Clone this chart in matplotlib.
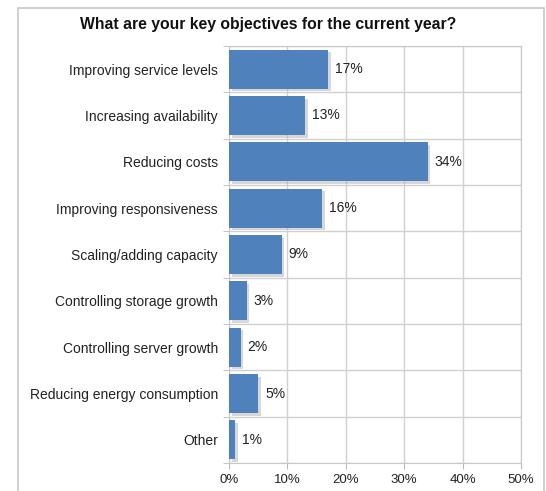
import matplotlib
matplotlib.use("Agg")
import matplotlib.pyplot as plt
import matplotlib.patheffects as pe
from matplotlib.patches import Rectangle

plt.rcParams['font.family'] = ['Liberation Sans', 'DejaVu Sans']

objectives = ["Improving service levels", "Increasing availability", "Reducing costs",
              "Improving responsiveness", "Scaling/adding capacity",
              "Controlling storage growth", "Controlling server growth",
              "Reducing energy consumption", "Other"]
shares = [17, 13, 34, 16, 9, 3, 2, 5, 1]
x_ticks = [0, 10, 20, 30, 40, 50]

W, H = 546, 491
fig = plt.figure(figsize=(W / 100, H / 100), dpi=100)

# outer chart frame
fig.patches.append(Rectangle((18 / W, -0.05), (544 - 18) / W, 1.05 - 8 / H,
                             transform=fig.transFigure, fill=False,
                             edgecolor="#c8c8c8", linewidth=1.2))

ax = fig.add_axes([229 / W, 1 - 463 / H, (521 - 229) / W, (463 - 46) / H])

pos = list(range(len(objectives)))
bars = ax.barh(pos, shares, height=0.84, color="#4f81bd", zorder=3)
for b in bars:
    b.set_path_effects([pe.SimplePatchShadow(offset=(2, -2), shadow_rgbFace="#b0b0b0", alpha=0.5),
                        pe.Normal()])

for p, v in zip(pos, shares):
    ax.text(v + 1.2, p, f"{v}%", va="center", ha="left", fontsize=10, color="#222222")

ax.set_xlim(0, 50)
ax.set_ylim(len(objectives) - 0.5, -0.5)
ax.set_xticks(x_ticks)
ax.set_xticklabels([f"{t}%" for t in x_ticks], fontsize=9.5, color="#222222")
ax.set_yticks(pos)
ax.set_yticklabels(objectives, fontsize=10, color="#222222")
ax.tick_params(axis="y", length=0, pad=8)
ax.tick_params(axis="x", length=4, color="#bbbbbb", pad=4)

# row separators on the category axis
ax.set_yticks([p + 0.5 for p in range(-1, len(objectives))], minor=True)
ax.tick_params(axis="y", which="minor", length=4, color="#bbbbbb")
ax.grid(axis="y", which="minor", color="#d0d0d0", linewidth=1, zorder=0)
ax.grid(axis="x", which="major", color="#d0d0d0", linewidth=1, zorder=0)

for s in ax.spines.values():
    s.set_color("#c8c8c8")

fig.text(268.5 / W, 1 - 25 / H, "What are your key objectives for the current year?",
         ha="center", va="center", fontsize=11.3, fontweight="bold", color="#111111")

fig.savefig("out.png", dpi=100)
